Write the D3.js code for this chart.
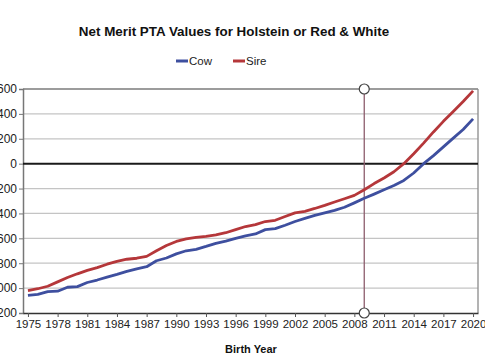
<!DOCTYPE html>
<html><head><meta charset="utf-8">
<script src="https://cdn.jsdelivr.net/npm/d3@7"></script>
<style>body{margin:0;background:#fff;overflow:hidden}svg{display:block}</style>
</head><body>
<svg id="c" width="485" height="360"></svg>
<script>
const years = d3.range(1975, 2021);
const cowValues = [-1058,-1050,-1028,-1025,-993,-988,-955,-935,-912,-890,-865,-845,-828,-780,-758,-725,-700,-688,-665,-640,-622,-600,-580,-565,-530,-522,-495,-465,-440,-415,-395,-375,-350,-315,-278,-245,-210,-175,-135,-75,0,65,135,205,275,360];
const sireValues = [-1020,-1005,-985,-950,-915,-885,-858,-835,-808,-785,-768,-760,-745,-700,-658,-625,-605,-592,-584,-572,-555,-530,-505,-490,-465,-455,-425,-395,-383,-360,-335,-308,-282,-255,-210,-160,-115,-65,0,80,165,255,340,420,500,585];
const xTickYears = d3.range(1975, 2021, 3);
const yTickValues = [-1200,-1000,-800,-600,-400,-200,0,200,400,600];
const markerYear = 2009;
const seriesNames = ["Cow","Sire"];
const seriesColors = ["#3e4f9f","#b5373a"];

const svg = d3.select("#c");
const L=23, R=478, T=89, B=313;
const x = d3.scaleLinear().domain([1974.5, 2020.5]).range([L, R]);
const y = d3.scaleLinear().domain([-1200, 600]).range([B, T]);

// title
svg.append("text").attr("x",234).attr("y",36).attr("text-anchor","middle")
  .attr("font-family","Liberation Sans, Arial, sans-serif").attr("font-weight","bold")
  .attr("font-size",13.4).attr("fill","#111").text("Net Merit PTA Values for Holstein or Red & White");

// legend
const leg = [{n:seriesNames[0],c:seriesColors[0],x:176},{n:seriesNames[1],c:seriesColors[1],x:233}];
leg.forEach(d=>{
  svg.append("line").attr("x1",d.x).attr("x2",d.x+12).attr("y1",61).attr("y2",61)
    .attr("stroke",d.c).attr("stroke-width",3);
  svg.append("text").attr("x",d.x+13).attr("y",65).attr("font-family","Liberation Sans, Arial, sans-serif")
    .attr("font-size",11.5).attr("fill","#222").text(d.n);
});

// gridlines
svg.append("g").selectAll("line").data(yTickValues.filter(v=>v!==0 && v!==-1200)).join("line")
  .attr("x1",L).attr("x2",R).attr("y1",d=>y(d)).attr("y2",d=>y(d))
  .attr("stroke","#c4c4c4").attr("stroke-width",1.3);
// frame top/right
svg.append("line").attr("x1",L).attr("x2",R).attr("y1",T).attr("y2",T).attr("stroke","#8a8a8a").attr("stroke-width",1.3);
svg.append("line").attr("x1",R).attr("x2",R).attr("y1",T).attr("y2",B).attr("stroke","#8a8a8a").attr("stroke-width",1.3);

// y axis
const yAxis = svg.append("g").attr("transform",`translate(${L},0)`)
  .call(d3.axisLeft(y).tickValues(yTickValues).tickFormat(d3.format("d")).tickSize(4).tickPadding(2));
yAxis.select(".domain").attr("stroke","#777").attr("stroke-width",1.5);
yAxis.selectAll(".tick line").attr("stroke","#777");
yAxis.selectAll("text").attr("font-family","Liberation Sans, Arial, sans-serif").attr("font-size",12).attr("fill","#222");

// x axis
const xAxis = svg.append("g").attr("transform",`translate(0,${B})`)
  .call(d3.axisBottom(x).tickValues(xTickYears).tickFormat(d3.format("d")).tickSize(4).tickPadding(3).tickSizeOuter(0));
xAxis.select(".domain").attr("stroke","#333").attr("stroke-width",1.5);
xAxis.selectAll(".tick line").attr("stroke","#555");
xAxis.selectAll("text").attr("font-family","Liberation Sans, Arial, sans-serif").attr("font-size",11.5).attr("fill","#222");

// zero line
svg.append("line").attr("x1",L).attr("x2",R).attr("y1",y(0)).attr("y2",y(0)).attr("stroke","#1a1a1a").attr("stroke-width",2);

// marker line
svg.append("line").attr("x1",x(markerYear)).attr("x2",x(markerYear)).attr("y1",T).attr("y2",B)
  .attr("stroke","#8d5d6d").attr("stroke-width",1.3);
[T,B].forEach(cy=>svg.append("circle").attr("cx",x(markerYear)).attr("cy",cy).attr("r",5)
  .attr("fill","#fff").attr("stroke","#444").attr("stroke-width",1.2));

// lines
const line = d3.line().x((d,i)=>x(years[i])).y(d=>y(d));
[cowValues, sireValues].forEach((vals,k)=>{
  svg.append("path").datum(vals).attr("d",line).attr("fill","none")
    .attr("stroke",seriesColors[k]).attr("stroke-width",2.8).attr("stroke-linejoin","round");
});

// x label
svg.append("text").attr("x",251).attr("y",353).attr("text-anchor","middle")
  .attr("font-family","Liberation Sans, Arial, sans-serif").attr("font-weight","bold")
  .attr("font-size",11).attr("fill","#111").text("Birth Year");
</script>
</body></html>
